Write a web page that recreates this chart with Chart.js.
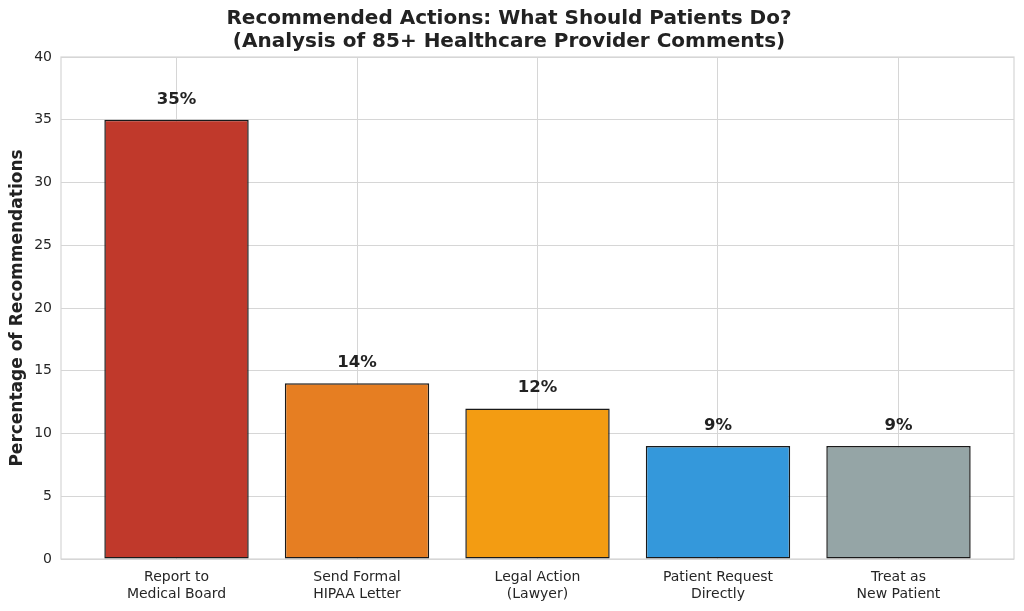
<!DOCTYPE html>
<html>
<head>
<meta charset="utf-8">
<script src="https://cdn.jsdelivr.net/npm/chart.js@4.4.0/dist/chart.umd.min.js"></script>
<style>
html,body{margin:0;padding:0;background:#fff;}
#wrap{width:1024px;height:611px;}
</style>
</head>
<body>
<div id="wrap"><canvas id="c" width="1024" height="611"></canvas></div>
<script>
const categories = [["Report to","Medical Board"],["Send Formal","HIPAA Letter"],["Legal Action","(Lawyer)"],["Patient Request","Directly"],["Treat as","New Patient"]];
const values = [35, 14, 12, 9, 9];
const valueLabels = ["35%", "14%", "12%", "9%", "9%"];
const barColors = ["#c0392b", "#e67e22", "#f39c12", "#3498db", "#95a5a6"];
const yTicks = [0, 5, 10, 15, 20, 25, 30, 35, 40];

const FONT = "'DejaVu Sans', sans-serif";
const GRID = "#d6d6d6";

const frame = {
  id: 'frame',
  beforeDatasetsDraw(chart) {
    const a = chart.chartArea, ctx = chart.ctx;
    ctx.save();
    ctx.strokeStyle = GRID;
    ctx.lineWidth = 1.2;
    ctx.strokeRect(a.left, a.top, a.right - a.left, a.bottom - a.top);
    ctx.restore();
  }
};

const valueLabelPlugin = {
  id: 'valueLabels',
  afterDatasetsDraw(chart) {
    const ctx = chart.ctx;
    const xs = chart.scales.x, ys = chart.scales.y;
    ctx.save();
    ctx.font = "bold 16.5px " + FONT;
    ctx.fillStyle = "#222222";
    ctx.textAlign = "center";
    ctx.textBaseline = "bottom";
    values.forEach((v, i) => {
      ctx.fillText(valueLabels[i], xs.getPixelForValue(i), ys.getPixelForValue(v) - 12);
    });
    ctx.restore();
  }
};

new Chart(document.getElementById('c'), {
  type: 'bar',
  data: {
    datasets: [{
      data: values.map((v, i) => ({x: i, y: v})),
      backgroundColor: barColors,
      borderColor: "#1a1a1a",
      borderWidth: 1.5,
      borderSkipped: false,
      barPercentage: 0.8,
      categoryPercentage: 1.0
    }]
  },
  options: {
    responsive: false,
    animation: false,
    devicePixelRatio: 1,
    layout: {padding: {left: 4, right: 10, top: 0, bottom: 0}},
    plugins: {
      legend: {display: false},
      tooltip: {enabled: false},
      title: {
        display: true,
        text: ["Recommended Actions: What Should Patients Do?", "(Analysis of 85+ Healthcare Provider Comments)"],
        font: {family: FONT, size: 20, weight: 'bold', lineHeight: 1.15},
        color: "#222222",
        padding: {top: 7, bottom: 4}
      }
    },
    scales: {
      x: {
        type: 'linear',
        min: -0.64,
        max: 4.64,
        offset: false,
        afterBuildTicks: axis => { axis.ticks = categories.map((c, i) => ({value: i})); },
        afterFit: axis => { axis.height = 52; },
        ticks: {
          autoSkip: false,
          maxRotation: 0,
          padding: 10,
          color: "#262626",
          font: {family: FONT, size: 14, lineHeight: 1.2},
          callback: (v) => categories[v]
        },
        grid: {color: GRID, lineWidth: 1, drawTicks: false, offset: false},
        border: {display: false}
      },
      y: {
        min: 0,
        max: 40,
        afterBuildTicks: axis => { axis.ticks = yTicks.map(v => ({value: v})); },
        afterFit: axis => { axis.width = 57; },
        ticks: {
          padding: 9,
          color: "#262626",
          font: {family: FONT, size: 14}
        },
        grid: {color: GRID, lineWidth: 1, drawTicks: false},
        border: {display: false},
        title: {
          display: true,
          text: "Percentage of Recommendations",
          color: "#222222",
          font: {family: FONT, size: 17, weight: 'bold'},
          padding: {top: 3, bottom: 0}
        }
      }
    }
  },
  plugins: [frame, valueLabelPlugin]
});
</script>
</body>
</html>
